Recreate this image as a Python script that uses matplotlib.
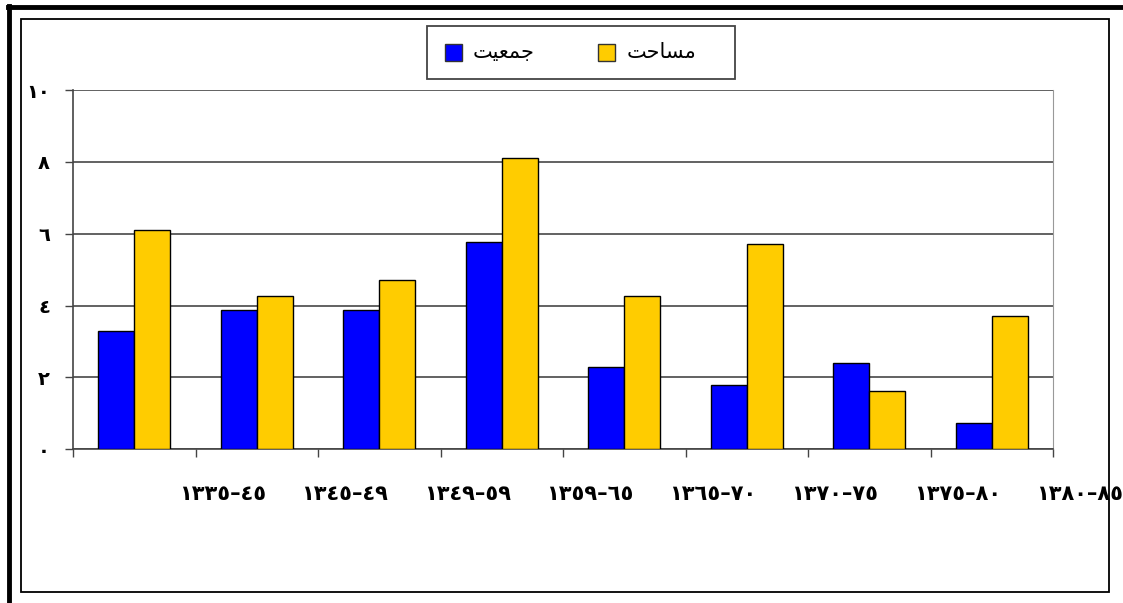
import matplotlib
matplotlib.use('Agg')
import matplotlib.pyplot as plt
from matplotlib.patches import Rectangle
from matplotlib.lines import Line2D
import numpy as np

plt.rcParams['font.family'] = ['DejaVu Sans']

# periods (Arabic-Indic digits as in the source)
periods = ['١٣٣٥–٤٥', '١٣٤٥–٤٩', '١٣٤٩–٥٩', '١٣٥٩–٦٥',
           '١٣٦٥–٧٠', '١٣٧٠–٧٥', '١٣٧٥–٨٠', '١٣٨٠–٨٥']
population = [3.28, 3.89, 3.89, 5.77, 2.28, 1.78, 2.39, 0.72]   # جمعیت
area = [6.11, 4.28, 4.72, 8.12, 4.28, 5.72, 1.61, 3.72]         # مساحت
yticks = [0, 2, 4, 6, 8, 10]
ylabels = ['٠', '٢', '٤', '٦', '٨', '١٠']

# legend names, pre-shaped (presentation forms, visual order)
name_pop = '\uFE96\uFEF4\uFECC\uFEE4\uFE9F'
name_area = '\uFE96\uFEA3\uFE8E\uFEB4\uFEE3'

W, H = 1123, 603
fig = plt.figure(figsize=(W / 100, H / 100), dpi=100)
fig.patch.set_facecolor('white')

def fx(x):
    return x / W

def fy(y):
    return 1 - y / H

ax = fig.add_axes([fx(73), fy(449.3), fx(1053) - fx(73), fy(90) - fy(449.3)])
x = np.arange(len(periods)) + 0.5
bw = 0.295
ax.bar(x - bw / 2, population, bw, color='#0000FF', edgecolor='black', linewidth=1, zorder=3)
ax.bar(x + bw / 2, area, bw, color='#FFCC00', edgecolor='black', linewidth=1, zorder=3)

ax.set_xlim(0, len(periods))
ax.set_ylim(0, 10)
ax.set_yticks(yticks)
ax.set_yticklabels(ylabels, fontsize=14, fontweight='bold')
ax.set_xticks(np.arange(0, len(periods) + 1))
ax.set_xticklabels([])
ax.tick_params(axis='y', length=5.5, width=1, color='#444444', pad=11)
ax.tick_params(axis='x', length=5.5, width=1, color='#444444', pad=2)
ax.yaxis.grid(True, color='#555555', linewidth=1.3, zorder=0)
ax.spines['top'].set_visible(False)
ax.spines['right'].set_color('#999999')
ax.spines['left'].set_color('#444444')
ax.spines['bottom'].set_color('#444444')
ax.spines['left'].set_linewidth(1.2)
ax.spines['bottom'].set_linewidth(1.2)

for i, lab in enumerate(periods):
    ax.text(i + 1.22, -1.25, lab, ha='center', va='center', fontsize=15,
            fontweight='bold', clip_on=False)

# outer frames
fig.add_artist(Line2D([fx(8), fx(1123)], [fy(7), fy(7)], color='black', linewidth=3.5))
fig.add_artist(Line2D([fx(8.5), fx(8.5)], [fy(6), fy(603)], color='black', linewidth=3.5))
fig.add_artist(Rectangle((fx(21), fy(592)), fx(1109) - fx(21), fy(19) - fy(592),
                         fill=False, edgecolor='black', linewidth=1.3))

# legend
fig.add_artist(Rectangle((fx(427), fy(79)), fx(735) - fx(427), fy(26) - fy(79),
                         fill=False, edgecolor='#444444', linewidth=1.3))
fig.add_artist(Rectangle((fx(445), fy(61)), fx(17), fy(44) - fy(61),
                         facecolor='#0000FF', edgecolor='#333333', linewidth=1))
fig.text(fx(504), fy(52), name_pop, ha='center', va='center', fontsize=15)
fig.add_artist(Rectangle((fx(598), fy(61)), fx(17), fy(44) - fy(61),
                         facecolor='#FFCC00', edgecolor='#333333', linewidth=1))
fig.text(fx(662), fy(52), name_area, ha='center', va='center', fontsize=15)

fig.savefig('out.png', dpi=100)
